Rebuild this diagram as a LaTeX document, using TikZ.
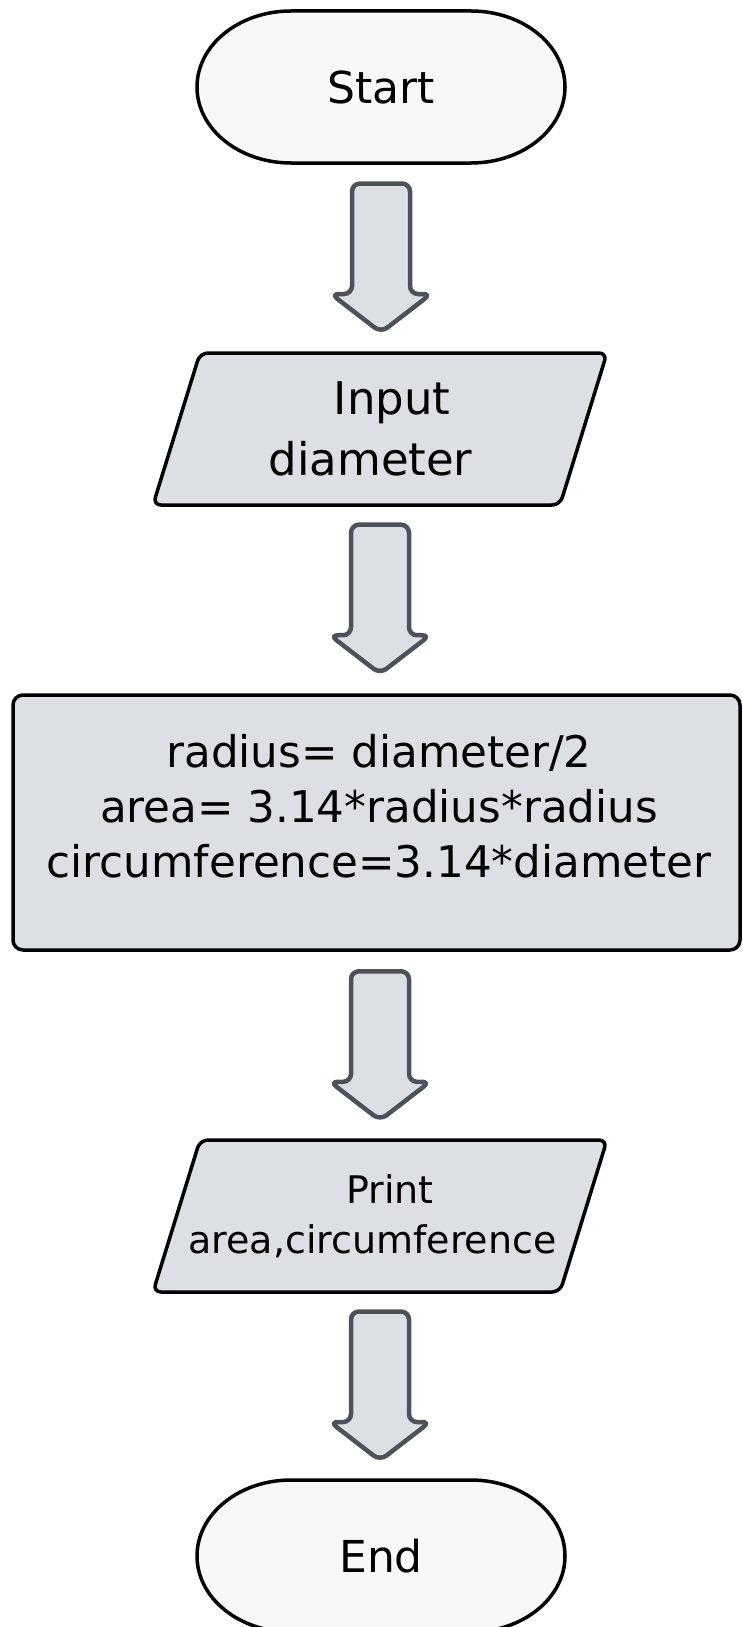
\documentclass[tikz,border=0pt]{standalone}
\usepackage{fontspec}
\setmainfont{DejaVu Sans}
\usetikzlibrary{calc}
\definecolor{termfill}{HTML}{F8F8F8}
\definecolor{boxfill}{HTML}{DCE0E5}
\definecolor{arrowline}{HTML}{4D525A}
\begin{document}
\begin{tikzpicture}[x=1pt,y=-1pt]
        \tikzset{
            termline/.style={draw=black, line width=3.5pt, fill=termfill},
            boxline/.style={draw=black, line width=3.5pt, fill=boxfill},
            term/.style={minimum width=368pt, minimum height=152pt, inner sep=0pt, font=\fontsize{44}{53}\selectfont},
            io/.style={minimum width=454pt, minimum height=152pt, inner sep=0pt, align=center},
            proc/.style={boxline, rounded corners=10pt, minimum width=727pt, minimum height=255pt},
            stadium/.pic={\draw[termline] (-90,-76) -- (90,-76) arc[start angle=90, end angle=-90, x radius=94pt, y radius=76pt] -- (-90,76) arc[start angle=270, end angle=90, x radius=94pt, y radius=76pt] -- cycle;},
            slantbox/.pic={\draw[boxline, rounded corners=8pt] (-180,-76) -- (227,-76) -- (180,76) -- (-227,76) -- cycle;},
            blockdown/.pic={\draw[draw=arrowline, fill=boxfill, line width=4.5pt, rounded corners=8pt] (-29,-74.5) -- (29,-74.5) -- (29,36) -- (50,36) -- (0,74.5) -- (-50,36) -- (-29,36) -- cycle;}
        }
        \useasboundingbox (0,0) rectangle (742,1627);

        \pic at (381,87) {stadium};
        \node[term] (start) at (381,87) {Start};
        \pic at (380,429) {slantbox};
        \node[io, font=\fontsize{45}{61}\selectfont] (input) at (380,429) {\hspace*{24pt}Input\\diameter\hspace*{19pt}};
        \node[proc] (calc) at (376.5,822.5) {};
        \node[font=\fontsize{43.6}{55}\selectfont, align=center] (calctext) at (379,806) {radius= diameter/2\\area= 3.14*radius*radius\\circumference=3.14*diameter};
        \pic at (380,1216) {slantbox};
        \node[io, font=\fontsize{38}{50}\selectfont] (print) at (380,1216) {\hspace*{20pt}Print\\area,circumference\hspace*{15pt}};
        \pic at (381,1556) {stadium};
        \node[term] (end) at (381,1556) {End};

        \pic at ($(start.south)!.5!(start.south|-input.north)$) {blockdown};
        \pic at ($(input.south)!.5!(input.south|-calc.north)$) {blockdown};
        \pic at ($(print.north)!.5!(print.north|-calc.south)$) {blockdown};
        \pic at ($(print.south)!.5!(print.south|-end.north)$) {blockdown};
    \end{tikzpicture}
\end{document}
